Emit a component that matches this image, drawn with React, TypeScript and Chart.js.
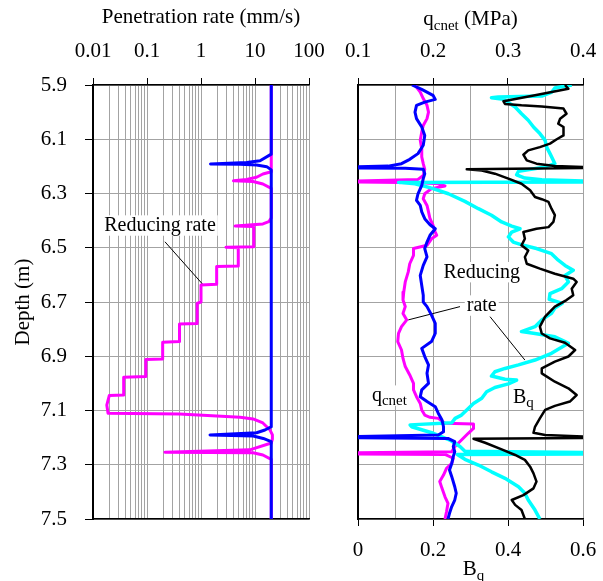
import React, { useEffect, useRef } from 'react';
import { Chart, registerables } from 'chart.js';

Chart.register(...registerables);

const FONT = '"Liberation Serif", "Times New Roman", Times, serif';

// ---- axes ----
const depthTicks = [5.9, 6.1, 6.3, 6.5, 6.7, 6.9, 7.1, 7.3, 7.5];
const depthMin = 5.9;
const depthMax = 7.5;
const rateGridValues = [
  0.01, 0.02, 0.03, 0.04, 0.05, 0.06, 0.07, 0.08, 0.09,
  0.1, 0.2, 0.3, 0.4, 0.5, 0.6, 0.7, 0.8, 0.9,
  1, 2, 3, 4, 5, 6, 7, 8, 9,
  10, 20, 30, 40, 50, 60, 70, 80, 90, 100,
];
const rateLabelValues = [0.01, 0.1, 1, 10, 100];
const qcnetTicks = [0.1, 0.2, 0.3, 0.4];
const bqTicks = [0, 0.1, 0.2, 0.3, 0.4, 0.5, 0.6];
const bqLabelValues = [0, 0.2, 0.4, 0.6];

// ---- left panel: penetration rate (mm/s) ----
const rateReducingDepth = [5.9, 6.22, 6.228, 6.24, 6.248, 6.253, 6.256, 6.265, 6.281, 6.39, 6.404, 6.412, 6.42, 6.422, 6.496, 6.498, 6.5, 6.567, 6.569, 6.635, 6.637, 6.7, 6.705, 6.779, 6.781, 6.846, 6.848, 6.91, 6.912, 6.975, 6.977, 7.043, 7.045, 7.08, 7.11, 7.113, 7.125, 7.131, 7.146, 7.172, 7.19, 7.205, 7.22, 7.245, 7.254, 7.256, 7.264, 7.28, 7.5];
const rateReducingMmS = [20, 20, 14, 10.7, 7, 4, 9.2, 14, 20, 20, 18, 14, 4.3, 9.5, 9.5, 2.9, 4.9, 4.9, 1.95, 1.95, 1.0, 1.0, 0.85, 0.85, 0.4, 0.4, 0.195, 0.195, 0.095, 0.095, 0.037, 0.037, 0.02, 0.018, 0.019, 0.4, 5.3, 9.2, 14, 19, 21, 21, 20, 8, 0.215, 9.2, 14, 20, 20];
const rateConstantDepth = [5.9, 6.155, 6.179, 6.186, 6.191, 6.192, 6.195, 6.201, 6.213, 7.16, 7.172, 7.182, 7.19, 7.194, 7.203, 7.215, 7.5];
const rateConstantMmS = [20, 20, 12.4, 7, 1.5, 5.3, 10.7, 16.5, 20, 20, 15.3, 10.7, 1.47, 9.3, 14.2, 20, 20];

// ---- right panel: qcnet (MPa) ----
const qcnetReducingDepth = [5.9, 5.926, 5.95, 5.975, 6.0, 6.024, 6.049, 6.073, 6.104, 6.135, 6.165, 6.19, 6.211, 6.233, 6.248, 6.254, 6.258, 6.26, 6.264, 6.272, 6.282, 6.301, 6.319, 6.344, 6.368, 6.393, 6.417, 6.442, 6.454, 6.467, 6.491, 6.503, 6.528, 6.559, 6.589, 6.626, 6.663, 6.693, 6.717, 6.742, 6.766, 6.791, 6.816, 6.846, 6.877, 6.908, 6.938, 6.969, 7.0, 7.024, 7.049, 7.074, 7.098, 7.117, 7.125, 7.129, 7.147, 7.15, 7.166, 7.184, 7.209, 7.233, 7.252, 7.256, 7.26, 7.262, 7.276, 7.295, 7.313, 7.338, 7.362, 7.387, 7.418, 7.442, 7.473, 7.5];
const qcnetReducingMPa = [0.176, 0.183, 0.187, 0.192, 0.194, 0.192, 0.187, 0.185, 0.183, 0.185, 0.185, 0.187, 0.189, 0.187, 0.18, 0.1, 0.1, 0.185, 0.207, 0.216, 0.198, 0.189, 0.187, 0.192, 0.194, 0.196, 0.2, 0.203, 0.205, 0.198, 0.192, 0.174, 0.174, 0.169, 0.167, 0.163, 0.161, 0.16, 0.163, 0.16, 0.165, 0.158, 0.154, 0.153, 0.158, 0.16, 0.163, 0.169, 0.174, 0.174, 0.178, 0.183, 0.185, 0.189, 0.196, 0.207, 0.216, 0.254, 0.254, 0.247, 0.238, 0.229, 0.225, 0.1, 0.1, 0.216, 0.227, 0.225, 0.218, 0.214, 0.209, 0.212, 0.216, 0.22, 0.218, 0.216];
const qcnetConstantDepth = [5.9, 5.916, 5.938, 5.953, 5.963, 5.975, 6.0, 6.024, 6.055, 6.086, 6.122, 6.153, 6.174, 6.19, 6.199, 6.201, 6.206, 6.207, 6.211, 6.227, 6.245, 6.27, 6.301, 6.325, 6.344, 6.368, 6.393, 6.415, 6.43, 6.454, 6.479, 6.503, 6.534, 6.565, 6.602, 6.639, 6.675, 6.7, 6.717, 6.748, 6.779, 6.816, 6.846, 6.871, 6.901, 6.932, 6.963, 7.0, 7.024, 7.049, 7.067, 7.086, 7.11, 7.135, 7.16, 7.178, 7.19, 7.196, 7.2, 7.203, 7.215, 7.233, 7.252, 7.27, 7.295, 7.319, 7.344, 7.381, 7.405, 7.43, 7.454, 7.479, 7.5];
const qcnetConstantMPa = [0.172, 0.185, 0.2, 0.203, 0.189, 0.178, 0.176, 0.178, 0.185, 0.189, 0.187, 0.18, 0.169, 0.158, 0.14, 0.1, 0.1, 0.163, 0.187, 0.189, 0.187, 0.185, 0.18, 0.178, 0.183, 0.185, 0.189, 0.196, 0.203, 0.196, 0.192, 0.189, 0.192, 0.187, 0.183, 0.185, 0.187, 0.187, 0.192, 0.198, 0.203, 0.203, 0.198, 0.185, 0.189, 0.194, 0.192, 0.194, 0.185, 0.183, 0.192, 0.203, 0.207, 0.212, 0.214, 0.214, 0.207, 0.1, 0.1, 0.22, 0.229, 0.227, 0.229, 0.227, 0.225, 0.222, 0.225, 0.229, 0.231, 0.229, 0.225, 0.222, 0.22];

// ---- right panel: Bq ----
const bqReducingDepth = [5.9, 5.911, 5.926, 5.941, 5.944, 5.947, 5.953, 5.981, 6.006, 6.03, 6.055, 6.079, 6.104, 6.129, 6.153, 6.178, 6.19, 6.202, 6.218, 6.231, 6.243, 6.249, 6.254, 6.258, 6.259, 6.264, 6.28, 6.301, 6.329, 6.356, 6.38, 6.405, 6.42, 6.43, 6.442, 6.46, 6.479, 6.491, 6.503, 6.522, 6.546, 6.565, 6.583, 6.602, 6.626, 6.651, 6.669, 6.69, 6.705, 6.722, 6.742, 6.766, 6.791, 6.809, 6.816, 6.828, 6.846, 6.852, 6.889, 6.914, 6.932, 6.945, 6.957, 6.973, 6.985, 6.988, 7.002, 7.015, 7.031, 7.055, 7.074, 7.098, 7.117, 7.129, 7.145, 7.153, 7.16, 7.184, 7.209, 7.233, 7.25, 7.255, 7.26, 7.262, 7.28, 7.301, 7.326, 7.35, 7.381, 7.405, 7.43, 7.467, 7.5];
const bqReducingValues = [0.57, 0.525, 0.517, 0.49, 0.374, 0.356, 0.388, 0.419, 0.436, 0.454, 0.468, 0.485, 0.499, 0.503, 0.512, 0.521, 0.525, 0.499, 0.428, 0.423, 0.445, 0.49, 0.6, 0.6, 0.108, 0.152, 0.196, 0.241, 0.285, 0.321, 0.356, 0.383, 0.41, 0.432, 0.41, 0.401, 0.414, 0.441, 0.476, 0.516, 0.534, 0.552, 0.574, 0.552, 0.561, 0.543, 0.512, 0.51, 0.545, 0.525, 0.516, 0.49, 0.472, 0.436, 0.472, 0.525, 0.552, 0.561, 0.516, 0.472, 0.428, 0.392, 0.365, 0.356, 0.392, 0.423, 0.401, 0.365, 0.343, 0.33, 0.308, 0.29, 0.276, 0.259, 0.25, 0.139, 0.143, 0.201, 0.245, 0.272, 0.285, 0.6, 0.6, 0.265, 0.285, 0.321, 0.356, 0.392, 0.428, 0.445, 0.454, 0.472, 0.485];
const bqConstantDepth = [5.9, 5.914, 5.938, 5.96, 5.97, 5.975, 5.979, 5.987, 6.006, 6.024, 6.043, 6.055, 6.086, 6.1, 6.116, 6.129, 6.141, 6.157, 6.178, 6.19, 6.199, 6.202, 6.206, 6.211, 6.215, 6.227, 6.245, 6.264, 6.288, 6.313, 6.321, 6.331, 6.356, 6.38, 6.405, 6.424, 6.43, 6.442, 6.467, 6.491, 6.51, 6.534, 6.559, 6.577, 6.596, 6.614, 6.626, 6.651, 6.675, 6.693, 6.717, 6.754, 6.791, 6.816, 6.834, 6.85, 6.877, 6.901, 6.92, 6.945, 6.963, 6.994, 7.018, 7.043, 7.067, 7.083, 7.098, 7.129, 7.16, 7.182, 7.19, 7.196, 7.201, 7.204, 7.219, 7.243, 7.264, 7.282, 7.307, 7.332, 7.362, 7.387, 7.412, 7.43, 7.448, 7.467, 7.5];
const bqConstantValues = [0.552, 0.561, 0.472, 0.388, 0.392, 0.436, 0.49, 0.548, 0.556, 0.539, 0.534, 0.548, 0.548, 0.53, 0.512, 0.485, 0.454, 0.441, 0.45, 0.476, 0.525, 0.6, 0.6, 0.29, 0.33, 0.365, 0.401, 0.436, 0.459, 0.472, 0.49, 0.508, 0.516, 0.525, 0.521, 0.508, 0.476, 0.441, 0.445, 0.436, 0.454, 0.445, 0.45, 0.485, 0.525, 0.574, 0.583, 0.57, 0.574, 0.556, 0.525, 0.499, 0.485, 0.49, 0.512, 0.552, 0.579, 0.561, 0.525, 0.49, 0.49, 0.525, 0.561, 0.583, 0.565, 0.525, 0.499, 0.485, 0.472, 0.468, 0.499, 0.6, 0.6, 0.308, 0.339, 0.383, 0.419, 0.445, 0.459, 0.468, 0.476, 0.468, 0.441, 0.41, 0.419, 0.436, 0.445];

// ---- annotations (data coordinates: [x value, depth]) ----
const leftNoteText = 'Reducing rate';
const leftNoteAt = [0.174, 6.438];
const leftLeader = [0.215, 6.478, 1.1, 6.637];
const rightNote1Text = 'Reducing';
const rightNote1At = [0.33, 6.61];
const rightNote2Text = 'rate';
const rightNote2At = [0.33, 6.733];
const rightLeaderA = [0.272, 6.717, 0.134, 6.766];
const rightLeaderB = [0.352, 6.754, 0.445, 6.914];
const qcnetLabelAt = [0.037, 7.065];
const bqLabelAt = [0.413, 7.072];

type Seg = { t: string; sub?: boolean };

function pts(xs: number[], ys: number[]) {
  return xs.map((x, i) => ({ x, y: ys[i] }));
}

function drawSegs(ctx: CanvasRenderingContext2D, segs: Seg[], x: number, baseline: number, align: 'left' | 'center', size: number, subSize: number, box: boolean) {
  const widths = segs.map((s) => {
    ctx.font = `${s.sub ? subSize : size}px ${FONT}`;
    return ctx.measureText(s.t).width;
  });
  const total = widths.reduce((a, b) => a + b, 0);
  let cx = align === 'center' ? x - total / 2 : x;
  if (box) {
    ctx.fillStyle = '#ffffff';
    ctx.fillRect(cx - 2, baseline - size * 0.78, total + 4, size * 1.02);
  }
  ctx.fillStyle = '#000000';
  ctx.textBaseline = 'alphabetic';
  ctx.textAlign = 'left';
  segs.forEach((s, i) => {
    ctx.font = `${s.sub ? subSize : size}px ${FONT}`;
    ctx.fillText(s.t, cx, s.sub ? baseline + size * 0.22 : baseline);
    cx += widths[i];
  });
}

function leader(ctx: CanvasRenderingContext2D, xs: any, ys: any, l: number[]) {
  ctx.save();
  ctx.strokeStyle = '#000';
  ctx.lineWidth = 1;
  ctx.beginPath();
  ctx.moveTo(xs.getPixelForValue(l[0]), ys.getPixelForValue(l[1]));
  ctx.lineTo(xs.getPixelForValue(l[2]), ys.getPixelForValue(l[3]));
  ctx.stroke();
  ctx.restore();
}

const leftPlugin = {
  id: 'leftNotes',
  beforeDatasetsDraw(chart: any) {
    const { ctx, scales } = chart;
    ctx.save();
    const xs = scales.x;
    const ys = scales.y;
    drawSegs(ctx, [{ t: leftNoteText }], xs.getPixelForValue(leftNoteAt[0]), ys.getPixelForValue(leftNoteAt[1]), 'center', 20, 14, true);
    leader(ctx, xs, ys, leftLeader);
    ctx.restore();
  },
  afterDraw(chart: any) {
    const { ctx, scales, chartArea } = chart;
    ctx.save();
    ctx.fillStyle = '#000';
    ctx.font = `21px ${FONT}`;
    ctx.textAlign = 'right';
    ctx.textBaseline = 'middle';
    depthTicks.forEach((v) => {
      ctx.fillText(v.toFixed(1), chartArea.left - 26, scales.y.getPixelForValue(v));
    });
    ctx.restore();
  },
};

const rightPlugin = {
  id: 'rightNotes',
  beforeDatasetsDraw(chart: any) {
    const { ctx, scales } = chart;
    ctx.save();
    const xs = scales.xb;
    const ys = scales.y;
    drawSegs(ctx, [{ t: rightNote1Text }], xs.getPixelForValue(rightNote1At[0]), ys.getPixelForValue(rightNote1At[1]), 'center', 20, 14, true);
    drawSegs(ctx, [{ t: rightNote2Text }], xs.getPixelForValue(rightNote2At[0]), ys.getPixelForValue(rightNote2At[1]), 'center', 20, 14, true);
    drawSegs(ctx, [{ t: 'q' }, { t: 'cnet', sub: true }], xs.getPixelForValue(qcnetLabelAt[0]), ys.getPixelForValue(qcnetLabelAt[1]), 'left', 20, 15, true);
    drawSegs(ctx, [{ t: 'B' }, { t: 'q', sub: true }], xs.getPixelForValue(bqLabelAt[0]), ys.getPixelForValue(bqLabelAt[1]), 'left', 20, 15, true);
    leader(ctx, xs, ys, rightLeaderA);
    leader(ctx, xs, ys, rightLeaderB);
    ctx.restore();
  },
  afterDraw(chart: any) {
    const { ctx, chartArea } = chart;
    ctx.save();
    const cx = (chartArea.left + chartArea.right) / 2;
    drawSegs(ctx, [{ t: 'q' }, { t: 'cnet', sub: true }, { t: ' (MPa)' }], cx, chartArea.top - 60, 'center', 21, 15, false);
    drawSegs(ctx, [{ t: 'B' }, { t: 'q', sub: true }], cx + 3, chartArea.bottom + 56, 'center', 21, 15, false);
    ctx.restore();
  },
};

const tickFont = { family: FONT, size: 21 };
const GRID = '#a3a3a3';

function noSidePadding(s: any) {
  s.paddingLeft = 0;
  s.paddingRight = 0;
}

function depthAxis(extra: any) {
  return {
    type: 'linear',
    reverse: true,
    min: depthMin,
    max: depthMax,
    afterBuildTicks: (s: any) => {
      s.ticks = depthTicks.map((v) => ({ value: v }));
    },
    ...extra,
  };
}

function leftConfig(): any {
  return {
    type: 'scatter',
    data: {
      datasets: [
        { label: 'Constant rate', data: pts(rateConstantMmS, rateConstantDepth), borderColor: '#0000ff', borderWidth: 3, showLine: true, pointRadius: 0, order: 0, xAxisID: 'x', yAxisID: 'y' },
        { label: 'Reducing rate', data: pts(rateReducingMmS, rateReducingDepth), borderColor: '#ff00ff', borderWidth: 3, showLine: true, pointRadius: 0, order: 1, xAxisID: 'x', yAxisID: 'y' },
      ],
    },
    options: {
      animation: false,
      responsive: false,
      devicePixelRatio: 1,
      layout: { padding: { left: 0, top: 0, right: 21, bottom: 0 } },
      plugins: { legend: { display: false }, tooltip: { enabled: false } },
      elements: { line: { tension: 0, borderJoinStyle: 'round' } },
      scales: {
        x: {
          type: 'logarithmic',
          position: 'top',
          min: 0.01,
          max: 100,
          afterBuildTicks: (s: any) => {
            s.ticks = rateGridValues.map((v) => ({ value: v }));
          },
          afterFit: (s: any) => {
            s.height = 85;
            noSidePadding(s);
          },
          ticks: {
            autoSkip: false,
            maxRotation: 0,
            minRotation: 0,
            padding: 14,
            color: '#000',
            font: tickFont,
            callback: (v: any) => (rateLabelValues.includes(v) ? String(v) : ''),
          },
          grid: {
            color: GRID,
            lineWidth: 1,
            tickLength: 7,
            tickColor: (c: any) => (c.tick && rateLabelValues.includes(c.tick.value) ? '#000' : 'rgba(0,0,0,0)'),
          },
          border: { color: '#000', width: 1.5 },
          title: { display: true, text: 'Penetration rate (mm/s)', color: '#000', font: { family: FONT, size: 21 }, padding: { top: 5, bottom: 0 } },
        },
        xbot: {
          type: 'logarithmic',
          position: 'bottom',
          min: 0.01,
          max: 100,
          afterFit: (s: any) => {
            s.height = 62;
            noSidePadding(s);
          },
          ticks: { display: false },
          grid: { display: false, drawTicks: false },
          border: { color: '#000', width: 1.5 },
        },
        y: depthAxis({
          afterFit: (s: any) => {
            s.width = 93;
          },
          ticks: { display: false },
          grid: { color: GRID, lineWidth: 1, tickLength: 8, tickColor: '#000' },
          border: { color: '#000', width: 2 },
          title: { display: true, text: 'Depth (m)', color: '#000', font: { family: FONT, size: 21 }, padding: { top: 11, bottom: 0 } },
        }),
      },
    },
    plugins: [leftPlugin],
  };
}

function rightConfig(): any {
  const common = { showLine: true, pointRadius: 0, yAxisID: 'y' };
  return {
    type: 'scatter',
    data: {
      datasets: [
        { label: 'Bq constant', data: pts(bqConstantValues, bqConstantDepth), borderColor: '#000000', borderWidth: 2.5, order: 0, xAxisID: 'xb', ...common },
        { label: 'qcnet constant', data: pts(qcnetConstantMPa, qcnetConstantDepth), borderColor: '#0000ff', borderWidth: 3, order: 1, xAxisID: 'xq', ...common },
        { label: 'Bq reducing', data: pts(bqReducingValues, bqReducingDepth), borderColor: '#00ffff', borderWidth: 3.5, order: 2, xAxisID: 'xb', ...common },
        { label: 'qcnet reducing', data: pts(qcnetReducingMPa, qcnetReducingDepth), borderColor: '#ff00ff', borderWidth: 3, order: 3, xAxisID: 'xq', ...common },
      ],
    },
    options: {
      animation: false,
      responsive: false,
      devicePixelRatio: 1,
      layout: { padding: { left: 0, top: 0, right: 20, bottom: 0 } },
      plugins: { legend: { display: false }, tooltip: { enabled: false } },
      elements: { line: { tension: 0, borderJoinStyle: 'round' } },
      scales: {
        xq: {
          type: 'linear',
          position: 'top',
          min: 0.1,
          max: 0.4,
          afterBuildTicks: (s: any) => {
            s.ticks = qcnetTicks.map((v) => ({ value: v }));
          },
          afterFit: (s: any) => {
            s.height = 85;
            noSidePadding(s);
          },
          ticks: { autoSkip: false, maxRotation: 0, minRotation: 0, padding: 14, color: '#000', font: tickFont, callback: (v: any) => String(v) },
          grid: { drawOnChartArea: false, tickLength: 7, tickColor: '#000', color: '#000' },
          border: { color: '#000', width: 1.5 },
        },
        xb: {
          type: 'linear',
          position: 'bottom',
          min: 0,
          max: 0.6,
          afterBuildTicks: (s: any) => {
            s.ticks = bqTicks.map((v) => ({ value: v }));
          },
          afterFit: (s: any) => {
            s.height = 62;
            noSidePadding(s);
          },
          ticks: { autoSkip: false, maxRotation: 0, minRotation: 0, padding: 12, color: '#000', font: tickFont, callback: (v: any) => (bqLabelValues.includes(v) ? String(v) : '') },
          grid: {
            color: GRID,
            lineWidth: 1,
            tickLength: 7,
            tickColor: (c: any) => (c.tick && bqLabelValues.includes(c.tick.value) ? '#000' : 'rgba(0,0,0,0)'),
          },
          border: { color: '#000', width: 1.5 },
        },
        y: depthAxis({
          afterFit: (s: any) => {
            s.width = 28;
          },
          ticks: { display: false },
          grid: { color: GRID, lineWidth: 1, drawTicks: false },
          border: { color: '#000', width: 2 },
        }),
      },
    },
    plugins: [rightPlugin],
  };
}

export default function App() {
  const leftRef = useRef<HTMLCanvasElement>(null);
  const rightRef = useRef<HTMLCanvasElement>(null);
  useEffect(() => {
    const left = new Chart(leftRef.current as HTMLCanvasElement, leftConfig());
    const right = new Chart(rightRef.current as HTMLCanvasElement, rightConfig());
    return () => {
      left.destroy();
      right.destroy();
    };
  }, []);
  return (
    <div style={{ position: 'fixed', left: 0, top: 0, width: 603, height: 581, background: '#ffffff' }}>
      <canvas ref={leftRef} width={330} height={581} style={{ position: 'absolute', left: 0, top: 0, width: 330, height: 581 }} />
      <canvas ref={rightRef} width={273} height={581} style={{ position: 'absolute', left: 330, top: 0, width: 273, height: 581 }} />
    </div>
  );
}
